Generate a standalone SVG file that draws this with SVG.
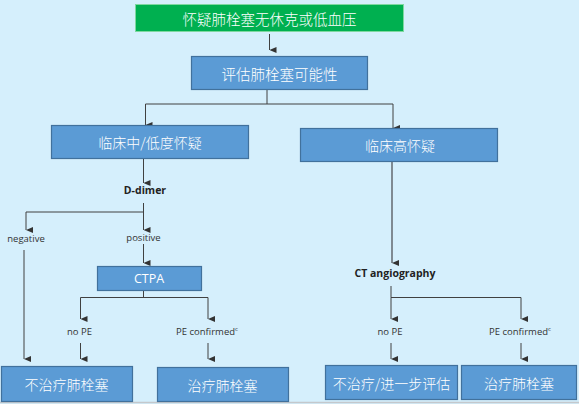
<svg xmlns="http://www.w3.org/2000/svg" width="579" height="404" viewBox="0 0 579 404">
<defs>
<marker id="ah" viewBox="0 0 6 7" refX="3" refY="7" markerWidth="6" markerHeight="7" markerUnits="userSpaceOnUse" orient="auto-start-reverse">
<path d="M0,0 L6,0 L3,7 Z" fill="#333"/>
</marker>
<style>
.box{fill:#5B9BD5;stroke:#41719C;stroke-width:1.2}
.cn{font-family:"Noto Sans CJK SC","Noto Sans",sans-serif;fill:#fff;text-anchor:middle;dominant-baseline:central;font-weight:300}
.en{font-family:"Open Sans","Liberation Sans",sans-serif;fill:#333;text-anchor:middle;font-size:9.5px}
.enb{font-family:"Open Sans","Liberation Sans",sans-serif;fill:#222;text-anchor:middle;font-size:10.5px;font-weight:bold}
.ln{fill:none;stroke:#404040;stroke-width:1}
.arr{fill:none;stroke:#404040;stroke-width:1;marker-end:url(#ah)}
.arrg{fill:none;stroke:#7f8a92;stroke-width:2;marker-end:url(#ah)}
</style>
</defs>
<rect width="579" height="404" fill="#D5EFFC"/>
<line x1="0" y1="402.5" x2="579" y2="402.5" stroke="#c4c8cc" stroke-width="1.5"/>

<g id="connectors">
<path class="arr" d="M269.5,34 V50"/>
<path class="ln" d="M267,89 V104 M145.5,104 H393"/>
<path class="arr" d="M145.5,104 V125"/>
<path class="arr" d="M393,104 V128"/>
<path class="arr" d="M143.5,159 V183"/>
<path class="ln" d="M143.5,203 V212 M26,212 H143.5"/>
<path class="arr" d="M26,212 V230"/>
<path class="arr" d="M143.5,212 V230"/>
<path class="arr" d="M24,250 V359"/>
<path class="arr" d="M143.5,244 V263"/>
<path class="ln" d="M143.5,291 V297.5 M80.5,297.5 H208"/>
<path class="arr" d="M80.5,297.5 V319"/>
<path class="arr" d="M208,297.5 V319"/>
<path class="arr" d="M80.5,343 V359"/>
<path class="arr" d="M208,343 V359"/>
<path class="arrg" d="M392,162 V263"/>
<path class="ln" d="M391,286 V297.5 M391,297.5 H521"/>
<path class="arr" d="M391,297.5 V319"/>
<path class="arr" d="M521,297.5 V319"/>
<path class="arr" d="M391,343 V359"/>
<path class="arr" d="M521,343 V359"/>
</g>

<g id="n-suspect">
<rect x="135.5" y="4.5" width="268" height="27" fill="#00B050" stroke="#7fd8a0" stroke-width="1"/>
<text class="cn" x="269.5" y="18" font-size="14.5">怀疑肺栓塞无休克或低血压</text>
</g>
<g id="n-assess">
<rect class="box" x="191.5" y="56.5" width="176" height="33"/>
<text class="cn" x="279.5" y="73" font-size="14.5">评估肺栓塞可能性</text>
</g>
<g id="n-lowmid">
<rect class="box" x="51.5" y="125.5" width="197" height="33"/>
<text class="cn" x="150" y="142" font-size="14">临床中/低度怀疑</text>
</g>
<g id="n-high">
<rect class="box" x="300.5" y="128.5" width="197" height="33"/>
<text class="cn" x="400" y="145" font-size="14">临床高怀疑</text>
</g>
<g id="l-ddimer"><text class="enb" x="145" y="194">D-dimer</text></g>
<g id="l-negative"><text class="en" x="26" y="242">negative</text></g>
<g id="l-positive"><text class="en" x="143.5" y="241">positive</text></g>
<g id="n-ctpa">
<rect class="box" x="97.5" y="266.5" width="104" height="24"/>
<text class="cn" x="149" y="278.5" font-size="12.5" style="font-family:'Open Sans','Liberation Sans',sans-serif;font-weight:400">CTPA</text>
</g>
<g id="l-cta"><text class="enb" x="395" y="277">CT angiography</text></g>
<g id="l-nope1"><text class="en" x="79.5" y="335">no PE</text></g>
<g id="l-pec1"><text class="en" x="207" y="335">PE confirmed<tspan font-size="6" dy="-4">c</tspan></text></g>
<g id="l-nope2"><text class="en" x="390" y="335">no PE</text></g>
<g id="l-pec2"><text class="en" x="520" y="335">PE confirmed<tspan font-size="6" dy="-4">c</tspan></text></g>
<g id="n-notreat">
<rect class="box" x="1.5" y="366.5" width="131" height="35"/>
<text class="cn" x="66.5" y="384" font-size="14">不治疗肺栓塞</text>
</g>
<g id="n-treat1">
<rect class="box" x="157.5" y="367.5" width="131" height="34"/>
<text class="cn" x="222.5" y="384.5" font-size="14">治疗肺栓塞</text>
</g>
<g id="n-notreat2">
<rect class="box" x="325.5" y="365.5" width="132" height="34"/>
<text class="cn" x="391.5" y="382.5" font-size="14">不治疗/进一步评估</text>
</g>
<g id="n-treat2">
<rect class="box" x="461.5" y="365.5" width="115" height="34"/>
<text class="cn" x="519" y="382.5" font-size="14">治疗肺栓塞</text>
</g>
</svg>
